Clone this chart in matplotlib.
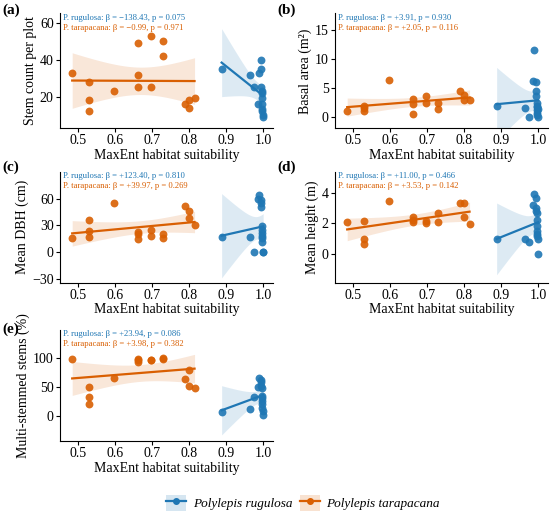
import numpy as np
import matplotlib
matplotlib.use('Agg')
import matplotlib.pyplot as plt
from matplotlib.patches import Patch
from matplotlib.lines import Line2D
from matplotlib.legend_handler import HandlerTuple

plt.rcParams['font.family'] = ['Liberation Serif', 'DejaVu Serif']

# habitat suitability per plot
tar_x = [0.485, 0.530, 0.530, 0.530, 0.597, 0.663, 0.663, 0.663,
         0.697, 0.697, 0.731, 0.731, 0.790, 0.800, 0.800, 0.815]
rug_x = [0.888, 0.965, 0.975, 0.985, 0.990, 0.993, 0.995, 0.995,
         0.996, 0.996, 0.997, 0.997, 0.998, 0.998, 0.999, 1.000]

# (a) stem count per plot
tar_stems = [33, 28, 18, 12, 23, 32, 49, 25, 53, 25, 50, 42, 16, 14, 18, 19]
rug_stems = [35, 32, 25, 16, 33, 40, 35, 25, 23, 22, 19, 16, 13, 12, 10, 9]
# (b) basal area
tar_basal = [1.1, 2.0, 1.6, 1.1, 6.5, 3.2, 2.3, 0.6, 3.6, 2.5, 2.5, 1.4, 4.5, 3.9, 3.0, 3.0]
rug_basal = [1.9, 1.6, 0.0, 6.3, 11.6, 6.0, 4.5, 3.6, 2.4, 2.0, 1.7, 1.2, 0.8, 0.3, 0.0, 1.4]
# (c) mean DBH
tar_dbh = [16, 36, 24, 17, 55, 23, 20, 15, 25, 18, 20, 16, 52, 46, 38, 31]
rug_dbh = [17, 17, 0, 60, 64, 58, 55, 51, 29, 25, 21, 18, 16, 11, 0, 0]
# (d) mean height
tar_height = [2.1, 2.15, 0.95, 0.65, 3.5, 2.4, 2.2, 2.1, 2.15, 2.05, 2.7, 2.1, 3.35, 3.35, 2.45, 1.95]
rug_height = [0.97, 0.97, 0.76, 3.2, 3.9, 3.7, 3.0, 2.8, 2.7, 2.2, 1.8, 1.5, 1.3, 1.2, 1.0, 0.0]
# (e) multi-stemmed
tar_multi = [98, 50, 33, 21, 65, 98, 96, 94, 97, 96, 100, 98, 63, 79, 51, 48]
rug_multi = [6, 11, 32, 50, 66, 62, 58, 52, 48, 35, 30, 25, 20, 14, 8, 1]

panels = [
    ('(a)', 'Stem count per plot', rug_stems, tar_stems, (2.8, 65.2), [20, 40, 60],
     'P. rugulosa: β = −138.43, p = 0.075', 'P. tarapacana: β = −0.99, p = 0.971'),
    ('(b)', 'Basal area (m²)', rug_basal, tar_basal, (-1.9, 17.9), [0, 5, 10, 15],
     'P. rugulosa: β = +3.91, p = 0.930', 'P. tarapacana: β = +2.05, p = 0.116'),
    ('(c)', 'Mean DBH (cm)', rug_dbh, tar_dbh, (-34, 90), [-30, 0, 30, 60],
     'P. rugulosa: β = +123.40, p = 0.810', 'P. tarapacana: β = +39.97, p = 0.269'),
    ('(d)', 'Mean height (m)', rug_height, tar_height, (-1.9, 5.4), [0, 2, 4],
     'P. rugulosa: β = +11.00, p = 0.466', 'P. tarapacana: β = +3.53, p = 0.142'),
    ('(e)', 'Multi-stemmed stems (%)', rug_multi, tar_multi, (-44, 149), [0, 50, 100],
     'P. rugulosa: β = +23.94, p = 0.086', 'P. tarapacana: β = +3.98, p = 0.382'),
]

blue = '#1f77b4'
orange = '#d95f02'
T_CRIT = 2.145  # t(0.975, df=14)


def fit_plot(ax, xs, ys, col):
    x = np.array(xs)
    y = np.array(ys, dtype=float)
    b, a = np.polyfit(x, y, 1)
    resid = y - (a + b * x)
    s = np.sqrt(np.sum(resid ** 2) / (len(x) - 2))
    sxx = np.sum((x - x.mean()) ** 2)
    grid = np.linspace(x.min(), x.max(), 100)
    pred = a + b * grid
    half = T_CRIT * s * np.sqrt(1 / len(x) + (grid - x.mean()) ** 2 / sxx)
    ax.fill_between(grid, pred - half, pred + half, color=col, alpha=0.15, lw=0)
    ax.scatter(x, y, s=32, color=col, alpha=0.9, lw=0, zorder=3)
    ax.plot(grid, pred, color=col, lw=1.6, zorder=4)


# axes boxes in figure fractions
lefts = [0.109, 0.609]
rows = [(0.752, 0.222), (0.453, 0.215), (0.147, 0.215)]
label_tops = [0.994, 0.689, 0.377]

fig = plt.figure(figsize=(5.5, 5.17), dpi=100)

for i, (tag, ylab, ry, ty, ylim, yticks, t1, t2) in enumerate(panels):
    r, c = divmod(i, 2)
    ax = fig.add_axes([lefts[c], rows[r][0], 0.387, rows[r][1]])
    fit_plot(ax, tar_x, ty, orange)
    fit_plot(ax, rug_x, ry, blue)
    ax.set_xlim(0.452, 1.026)
    ax.set_ylim(*ylim)
    ax.set_xticks([0.5, 0.6, 0.7, 0.8, 0.9, 1.0])
    ax.set_xticklabels(['0.5', '0.6', '0.7', '0.8', '0.9', '1.0'])
    ax.set_yticks(yticks)
    ax.tick_params(labelsize=10, length=3, width=0.8, pad=1.5)
    ax.set_xlabel('MaxEnt habitat suitability', fontsize=10, labelpad=1)
    ax.set_ylabel(ylab, fontsize=10, labelpad=2)
    for s in ['top', 'right']:
        ax.spines[s].set_visible(False)
    ax.text(0.015, 0.995, t1, transform=ax.transAxes, color=blue, fontsize=6.2, va='top')
    ax.text(0.015, 0.905, t2, transform=ax.transAxes, color=orange, fontsize=6.2, va='top')
    fig.text(0.005 + 0.5 * c, label_tops[r], tag, fontsize=11, fontweight='bold', va='top')

handles = [(Patch(facecolor=blue, alpha=0.18, lw=0),
            Line2D([], [], color=blue, marker='o', lw=1.6, ms=4)),
           (Patch(facecolor=orange, alpha=0.18, lw=0),
            Line2D([], [], color=orange, marker='o', lw=1.6, ms=4))]
leg = fig.legend(handles, ['Polylepis rugulosa', 'Polylepis tarapacana'],
                 handler_map={tuple: HandlerTuple(ndivide=1)},
                 loc='center', bbox_to_anchor=(0.551, 0.027), ncol=2, frameon=False,
                 prop={'style': 'italic', 'size': 9.5},
                 handlelength=1.5, handleheight=1.5, handletextpad=0.5, columnspacing=0.6)

fig.savefig('out.png', dpi=100)
